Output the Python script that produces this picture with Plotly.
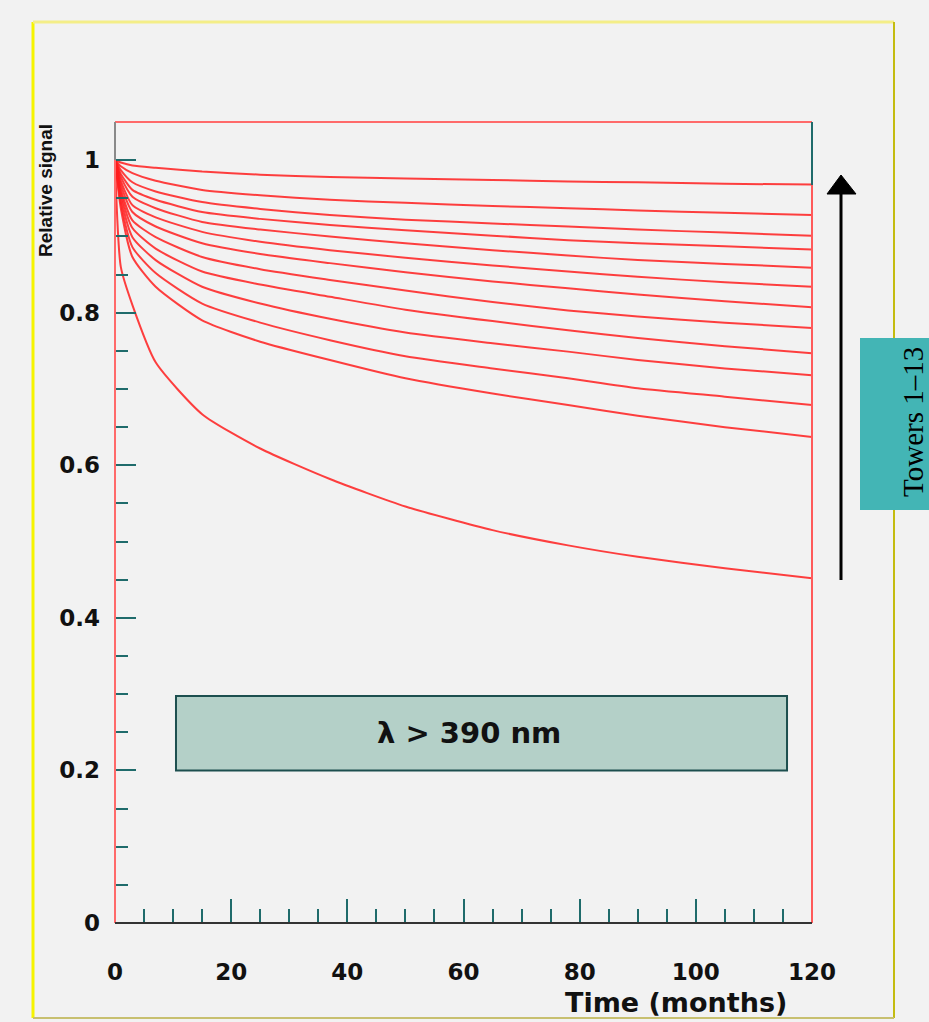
import plotly.graph_objects as go

# ---------------- data ----------------
months = [0, 1, 3, 7, 15, 25, 37, 50, 65, 78, 90, 105, 120]

tower_1 = [1.0, 0.997, 0.993, 0.990, 0.985, 0.981, 0.978, 0.976, 0.974, 0.972, 0.971, 0.969, 0.968]
tower_2 = [1.0, 0.992, 0.983, 0.973, 0.961, 0.954, 0.948, 0.944, 0.940, 0.937, 0.934, 0.931, 0.928]
tower_3 = [1.0, 0.987, 0.971, 0.959, 0.945, 0.936, 0.928, 0.922, 0.917, 0.913, 0.909, 0.905, 0.901]
tower_4 = [1.0, 0.982, 0.961, 0.948, 0.932, 0.923, 0.915, 0.908, 0.901, 0.895, 0.891, 0.887, 0.883]
tower_5 = [1.0, 0.978, 0.952, 0.937, 0.919, 0.909, 0.900, 0.891, 0.882, 0.875, 0.869, 0.864, 0.859]
tower_6 = [1.0, 0.973, 0.941, 0.925, 0.906, 0.893, 0.882, 0.872, 0.862, 0.854, 0.847, 0.840, 0.834]
tower_7 = [1.0, 0.968, 0.932, 0.913, 0.891, 0.877, 0.865, 0.853, 0.841, 0.832, 0.824, 0.815, 0.807]
tower_8 = [1.0, 0.962, 0.921, 0.899, 0.873, 0.857, 0.843, 0.829, 0.814, 0.803, 0.795, 0.787, 0.780]
tower_9 = [1.0, 0.957, 0.911, 0.884, 0.854, 0.837, 0.821, 0.804, 0.789, 0.777, 0.767, 0.756, 0.747]
tower_10 = [1.0, 0.951, 0.899, 0.869, 0.834, 0.812, 0.792, 0.774, 0.760, 0.749, 0.738, 0.727, 0.718]
tower_11 = [1.0, 0.944, 0.886, 0.852, 0.812, 0.787, 0.764, 0.743, 0.727, 0.714, 0.701, 0.690, 0.679]
tower_12 = [1.0, 0.937, 0.873, 0.834, 0.790, 0.762, 0.738, 0.714, 0.694, 0.679, 0.665, 0.650, 0.637]
tower_13 = [1.0, 0.860, 0.810, 0.735, 0.667, 0.622, 0.582, 0.546, 0.515, 0.495, 0.480, 0.465, 0.452]

towers = [tower_1, tower_2, tower_3, tower_4, tower_5, tower_6, tower_7,
          tower_8, tower_9, tower_10, tower_11, tower_12, tower_13]

y_tick_vals = [0, 0.2, 0.4, 0.6, 0.8, 1.0]
y_tick_text = ["0", "0.2", "0.4", "0.6", "0.8", "1"]
x_tick_vals = [0, 20, 40, 60, 80, 100, 120]
x_tick_text = ["0", "20", "40", "60", "80", "100", "120"]

x_title = "Time (months)"
y_title = "Relative signal"
band_label = "λ > 390 nm"
towers_label = "Towers 1–13"

# ---------------- layout helpers (pixel -> paper) ----------------
FW, FH = 929, 1022
L, R, T, B = 115, 812, 122, 923
W, H = R - L, B - T


def fx(px):
    return (px - L) / W


def fy(py):
    return (B - py) / H


fig = go.Figure()
for i, vals in enumerate(towers):
    fig.add_trace(go.Scatter(
        x=months, y=vals, mode="lines",
        line=dict(color="rgba(255,30,30,0.85)", width=2, shape="spline", smoothing=0.6),
        name=f"Tower {i + 1}", showlegend=False, hoverinfo="x+y+name"))

tick_font = dict(family="DejaVu Sans", size=23, color="#111111", weight="bold")

fig.update_layout(
    width=FW, height=FH,
    margin=dict(l=L, r=FW - R, t=T, b=FH - B, pad=0),
    paper_bgcolor="#f2f2f2", plot_bgcolor="#f2f2f2",
    xaxis=dict(range=[0, 120], showgrid=False, zeroline=False, showline=False,
               tickvals=x_tick_vals, ticktext=x_tick_text,
               ticks="inside", ticklen=24, tickwidth=2, tickcolor="#1f6b6b",
               minor=dict(dtick=5, ticks="inside", ticklen=14, tickwidth=2, tickcolor="#1f6b6b"),
               tickfont=tick_font, ticklabelstandoff=33),
    yaxis=dict(range=[0, 1.05], showgrid=False, zeroline=False, showline=False,
               tickvals=y_tick_vals, ticktext=y_tick_text,
               ticks="inside", ticklen=21, tickwidth=2, tickcolor="#1f6b6b",
               minor=dict(dtick=0.05, ticks="inside", ticklen=13, tickwidth=2, tickcolor="#1f6b6b"),
               tickfont=tick_font, ticklabelstandoff=14),
)

shapes = []
# yellow outer frame
shapes.append(dict(type="line", xref="paper", yref="paper", x0=fx(33), x1=fx(33), y0=fy(22), y1=fy(1018),
                   line=dict(color="#f6f400", width=3)))
shapes.append(dict(type="line", xref="paper", yref="paper", x0=fx(33), x1=fx(894), y0=fy(22), y1=fy(22),
                   line=dict(color="#f4ee88", width=3)))
shapes.append(dict(type="line", xref="paper", yref="paper", x0=fx(894), x1=fx(894), y0=fy(22), y1=fy(1018),
                   line=dict(color="#c4bc10", width=2)))
shapes.append(dict(type="line", xref="paper", yref="paper", x0=fx(33), x1=fx(894), y0=fy(1018), y1=fy(1018),
                   line=dict(color="#c8c070", width=2)))
# teal side box
shapes.append(dict(type="rect", xref="paper", yref="paper", x0=fx(860), x1=fx(990), y0=fy(510), y1=fy(338),
                   fillcolor="#43b5b5", line=dict(width=0)))
# plot frame
shapes.append(dict(type="line", xref="paper", yref="paper", x0=0, x1=1, y0=1, y1=1,
                   line=dict(color="#ff6a6a", width=2)))
shapes.append(dict(type="line", xref="paper", yref="paper", x0=0, x1=0, y0=0, y1=fy(160),
                   line=dict(color="#ff6a6a", width=2)))
shapes.append(dict(type="line", xref="paper", yref="paper", x0=0, x1=0, y0=fy(160), y1=1,
                   line=dict(color="#8a8a8a", width=2)))
shapes.append(dict(type="line", xref="paper", yref="paper", x0=1, x1=1, y0=0, y1=fy(185),
                   line=dict(color="#ff5a5a", width=2)))
shapes.append(dict(type="line", xref="paper", yref="paper", x0=1, x1=1, y0=fy(185), y1=1,
                   line=dict(color="#1f6b6b", width=2)))
shapes.append(dict(type="line", xref="paper", yref="paper", x0=0, x1=1, y0=0, y1=0,
                   line=dict(color="#333333", width=2)))
# wavelength box
shapes.append(dict(type="rect", xref="x", yref="y", x0=10.5, x1=115.7, y0=0.2, y1=0.2975,
                   fillcolor="#b4d0c8", line=dict(color="#1d4f4f", width=2)))
# arrow
shapes.append(dict(type="line", xref="paper", yref="paper", x0=fx(841), x1=fx(841), y0=fy(580), y1=fy(192),
                   line=dict(color="#000000", width=3)))
shapes.append(dict(type="path", xref="paper", yref="paper",
                   path=f"M {fx(827)},{fy(194)} L {fx(841)},{fy(175)} L {fx(856)},{fy(194)} Z",
                   fillcolor="#000000", line=dict(color="#000000", width=1)))
fig.update_layout(shapes=shapes)

annotations = [
    dict(text=y_title, xref="paper", yref="paper", x=fx(45), y=fy(191), textangle=-90,
         showarrow=False, xanchor="center", yanchor="middle",
         font=dict(family="Liberation Sans", size=19, color="#111111", weight="bold")),
    dict(text=x_title, xref="paper", yref="paper", x=fx(676), y=fy(1002),
         showarrow=False, xanchor="center", yanchor="middle",
         font=dict(family="DejaVu Sans", size=27, color="#111111", weight="bold")),
    dict(text=band_label, xref="x", yref="y", x=61, y=0.249,
         showarrow=False, xanchor="center", yanchor="middle",
         font=dict(family="DejaVu Sans", size=29, color="#111111", weight="bold")),
    dict(text=towers_label, xref="paper", yref="paper", x=fx(913), y=fy(422), textangle=-90,
         showarrow=False, xanchor="center", yanchor="middle",
         font=dict(family="Liberation Serif", size=29, color="#000000")),
]
fig.update_layout(annotations=annotations)

fig.write_html("out.html",
               config={"displayModeBar": False},
               post_script="document.body.style.margin='0px';document.body.style.padding='0px';"
                           "document.body.style.background='#f2f2f2';"
                           "document.documentElement.style.overflow='hidden';")
